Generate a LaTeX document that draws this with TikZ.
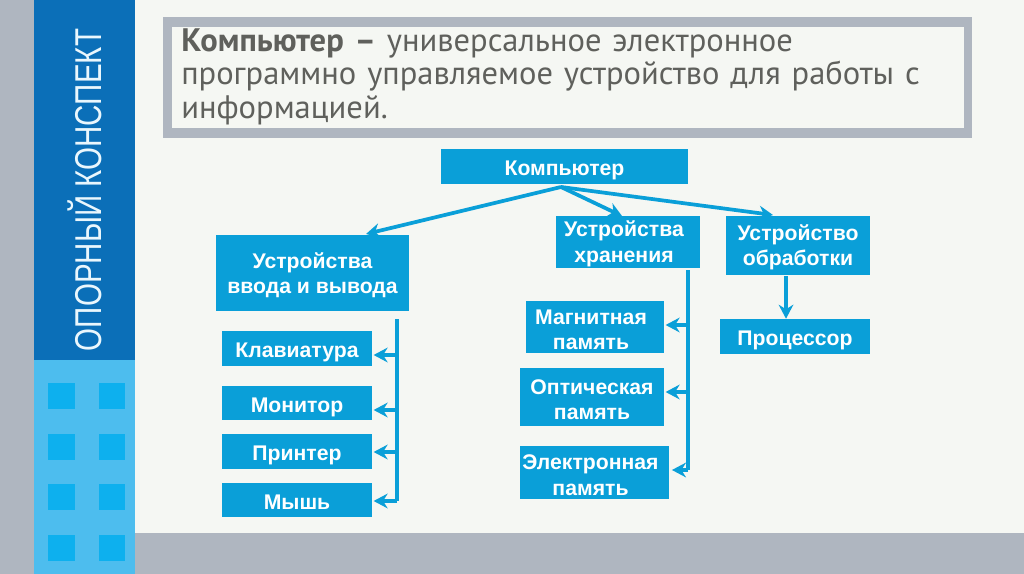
\documentclass[tikz,border=0pt]{standalone}
\usepackage{fontspec}
\setmainfont{Liberation Sans}
\newfontfamily\titlefont{PT Sans}
\usetikzlibrary{arrows.meta}
\definecolor{bgc}{HTML}{F5F7F3}
\definecolor{grayc}{HTML}{AFB6C0}
\definecolor{darkb}{HTML}{0B6FB8}
\definecolor{lightb}{HTML}{4DBDEE}
\definecolor{sqc}{HTML}{0DB0EE}
\definecolor{boxc}{HTML}{0A9FD8}
\definecolor{titlec}{HTML}{5F605C}
\tikzset{
  x=0.75pt,y=-0.75pt,
  wh/.style n args={2}{minimum width=#1*0.75pt,minimum height=#2*0.75pt},
  blk/.style={fill=boxc,draw=none,inner sep=0pt,text=white,align=center,
    font=\fontsize{15.9pt}{19.1pt}\selectfont\bfseries},
  one/.style={text height=14pt,text depth=0.5pt},
  sq/.style={fill=sqc,draw=none},
  conn/.style={draw=boxc,line width=2.8pt,-{Stealth[length=10.5pt,width=11pt]}},
  trunk/.style={draw=boxc,line width=2.8pt},
}
\newcommand{\lsh}{\hspace*{-6pt}}
\newcommand{\upstr}{\rule{0pt}{14.8pt}}
\begin{document}
\begin{tikzpicture}
\useasboundingbox (0,0) rectangle (1024,574);
\fill[bgc] (0,0) rectangle (1024,574);
\fill[grayc] (0,0) rectangle (34,574);
\fill[grayc] (135,533) rectangle (1024,574);
\fill[darkb] (34,0) rectangle (135,360);
\fill[lightb] (34,360) rectangle (135,574);
\foreach \yy in {383,434,484,535} {
  \fill[sq] (48,\yy) rectangle +(27,26);
  \fill[sq] (99,\yy) rectangle +(26,26);
}
\node[rotate=90,xscale=0.79,transform shape,text=white!88!lightb,inner sep=0pt,font=\fontsize{28pt}{34pt}\selectfont] (side) at (85,190) {ОПОРНЫЙ КОНСПЕКТ};
\fill[grayc] (163,17) rectangle (972,138);
\fill[bgc] (172,27) rectangle (964,128);
\node[anchor=north west,inner sep=0pt,align=left,text=titlec,text width=780*0.75pt,
  font=\titlefont\fontsize{24.4pt}{25.4pt}\selectfont] (title) at (181,28)
  {\textbf{Компьютер –} универсальное электронное\\программно управляемое устройство для работы с\\информацией.};

\node[blk,one,wh={247}{35}] (comp) at (564.5,166.5) {Компьютер};
\node[blk,wh={193}{76}] (io) at (312.5,273) {\upstr Устройства\\ввода и вывода};
\node[blk,wh={144}{52}] (stor) at (628,242) {\upstr\lsh Устройства\\\lsh хранения};
\node[blk,wh={144}{59}] (proc) at (798,245.5) {\upstr Устройство\\обработки};
\node[blk,one,wh={150}{35}] (cpu) at (795,336.5) {Процессор};
\node[blk,wh={138}{52}] (mag) at (595,327) {\upstr\lsh Магнитная\\\lsh память};
\node[blk,wh={144}{58}] (opt) at (592,397) {\upstr Оптическая\\память};
\node[blk,wh={149}{53}] (el) at (594.5,472.5) {\upstr\lsh Электронная\\\lsh память};
\node[blk,one,wh={150}{35}] (kb) at (297,348.5) {Клавиатура};
\node[blk,one,wh={150}{34}] (mon) at (297,403) {Монитор};
\node[blk,one,wh={150}{35}] (pr) at (297,451.5) {Принтер};
\node[blk,one,wh={150}{34}] (ms) at (297,500) {Мышь};

\coordinate (hub) at (561,187);
\coordinate (a1) at (366,234);
\coordinate (a2) at (622,216);
\coordinate (a3) at (773,215);
\draw[conn] (hub) -- (a1);
\draw[conn] (hub) -- (a2);
\draw[conn] (hub) -- (a3);

\coordinate (t1) at (397,319);
\coordinate (t1a) at (397,355);
\coordinate (t1b) at (397,410);
\coordinate (t1c) at (397,452);
\coordinate (t1d) at (397,501);
\draw[trunk] (t1) -- (t1d);
\draw[conn] (t1a) -- ([xshift=1pt]kb.east |- t1a);
\draw[conn] (t1b) -- ([xshift=1pt]mon.east |- t1b);
\draw[conn] (t1c) -- ([xshift=1pt]pr.east |- t1c);
\draw[conn] (t1d) -- ([xshift=1pt]ms.east |- t1d);

\coordinate (t2) at (688,270);
\coordinate (t2a) at (688,325);
\coordinate (t2b) at (688,392);
\coordinate (t2c) at (688,470);
\draw[trunk] (t2) -- (t2c);
\draw[conn] (t2a) -- ([xshift=1pt]mag.east |- t2a);
\draw[conn] (t2b) -- ([xshift=1pt]opt.east |- t2b);
\draw[conn] (t2c) -- ([xshift=2pt]el.east |- t2c);

\draw[conn] (proc.south -| 786,0) ++(0,1) -- (cpu.north -| 786,0);
\end{tikzpicture}
\end{document}
